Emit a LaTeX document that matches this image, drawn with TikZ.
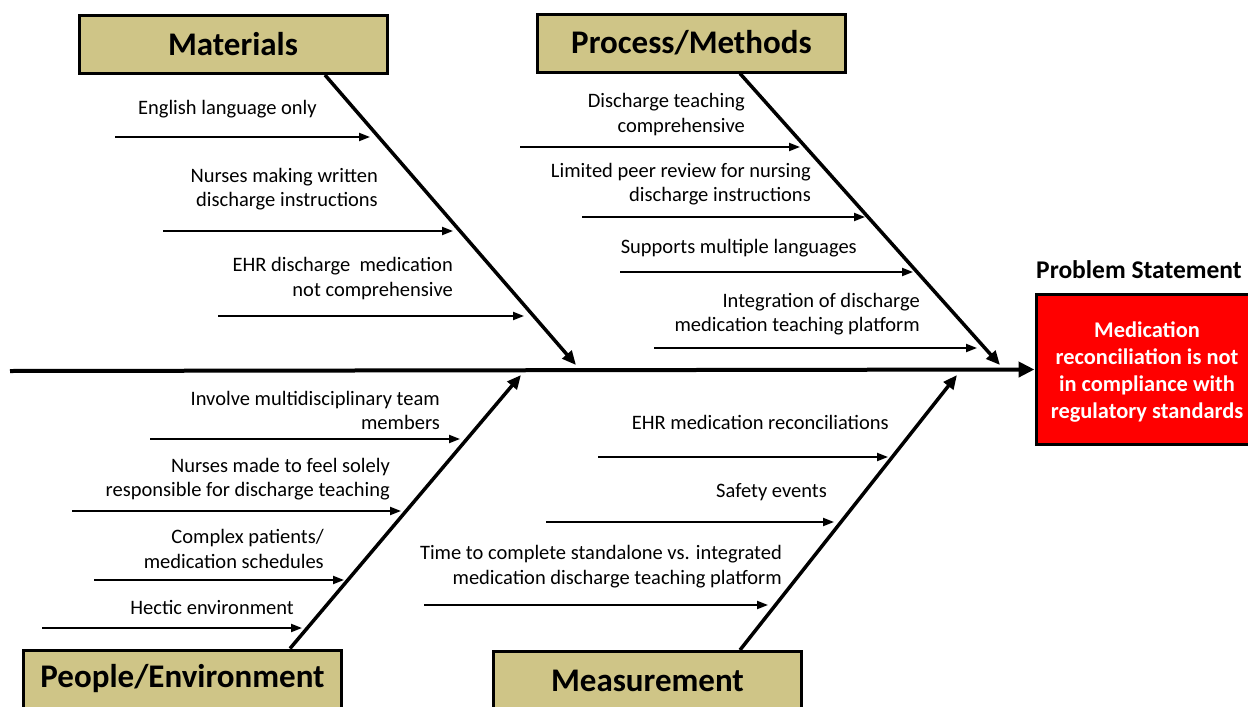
\documentclass[tikz,border=0pt]{standalone}
\usepackage{fontspec}
\setmainfont{Carlito}
\usetikzlibrary{arrows.meta,positioning}
\definecolor{boxtan}{RGB}{207,197,135}
\definecolor{probred}{RGB}{255,0,0}

\tikzset{
  category/.style={draw=black, line width=3pt, fill=boxtan, minimum width=308pt, minimum height=58pt, inner sep=0pt, font=\fontsize{33}{36}\selectfont\bfseries},
  cause/.style={align=right, anchor=east, inner sep=0pt, yshift=-2pt, font=\fontsize{20.5}{24.5}\selectfont},
  spine/.style={line width=4pt, -{Triangle[length=16pt,width=15pt]}},
  bone/.style={line width=3.5pt, -{Triangle[length=14pt,width=12pt]}},
  twig/.style={line width=2pt, -{Triangle[length=11pt,width=8pt]}},
}

\begin{document}
\begin{tikzpicture}[x=1pt,y=-1pt]
	\useasboundingbox (0,0) rectangle (1248,707);

	% problem head
	\node[draw=black, line width=3pt, fill=probred, minimum width=222pt, minimum height=150pt] (prob) at (1147,369.5) {};
	\node[text=white, align=center, inner sep=0pt, font=\fontsize{22.4}{27}\selectfont\bfseries] (probtext) at (1147,372.5) {Medication\\reconciliation is not\\in compliance with\\regulatory standards};
	\node[anchor=west, inner sep=0pt, font=\fontsize{25.5}{28}\selectfont\bfseries] (probtitle) at (1036,269.5) {Problem Statement};

	% spine
	\coordinate (tail) at (10,371);
	\draw[spine] (tail) -- (prob.west);

	% category boxes
	\node[category] (mat) at (233,44.5) {Materials};
	\node[category] (proc) at (691.5,43) {Process/Methods};
	\node[category, minimum width=318pt] (peop) at (182.5,679) {People/Environment};
	\node[category] (meas) at (647.5,680.5) {Measurement};

	% bone tips on spine
	\coordinate (mattip) at (576,365);
	\coordinate (proctip) at (1000,365);
	\coordinate (peoptip) at (521,375);
	\coordinate (meastip) at (957,375);

	\draw[bone] ([xshift=92pt]mat.south) -- (mattip);
	\draw[bone] ([xshift=48.5pt]proc.south) -- (proctip);
	\draw[bone] ([xshift=107.5pt]peop.north) -- (peoptip);
	\draw[bone] ([xshift=92.5pt]meas.north) -- (meastip);

	% Materials causes
	\node[cause] (m1) at (317,107) {English language only};
	\node[cause] (m2) at (378,187) {Nurses making written\\discharge instructions};
	\node[cause] (m3) at (453,276.5) {EHR discharge\ \ medication\\not comprehensive};
	\coordinate (m1s) at (115,137); \coordinate (m1e) at (370,137);
	\coordinate (m2s) at (163,231); \coordinate (m2e) at (453,231);
	\coordinate (m3s) at (218,316); \coordinate (m3e) at (524,316);
	\draw[twig] (m1s) -- (m1e);
	\draw[twig] (m2s) -- (m2e);
	\draw[twig] (m3s) -- (m3e);

	% Process/Methods causes
	\node[cause] (p1) at (745,112.5) {Discharge teaching\\comprehensive};
	\node[cause] (p2) at (811,182) {Limited peer review for nursing\\discharge instructions};
	\node[cause] (p3) at (857,246) {Supports multiple languages};
	\node[cause] (p4) at (920,312) {Integration of discharge\\medication teaching platform};
	\coordinate (p1s) at (520,147); \coordinate (p1e) at (800,147);
	\coordinate (p2s) at (582,217); \coordinate (p2e) at (865,217);
	\coordinate (p3s) at (620,272); \coordinate (p3e) at (913,272);
	\coordinate (p4s) at (654,348); \coordinate (p4e) at (977,348);
	\draw[twig] (p1s) -- (p1e);
	\draw[twig] (p2s) -- (p2e);
	\draw[twig] (p3s) -- (p3e);
	\draw[twig] (p4s) -- (p4e);

	% People/Environment causes
	\node[cause] (e1) at (440,408.5) {Involve multidisciplinary team\\members};
	\node[cause] (e2) at (390,477) {Nurses made to feel solely\\responsible for discharge teaching};
	\node[cause] (e3) at (324,547) {Complex patients/\\medication schedules};
	\node[cause] (e4) at (294,605) {Hectic environment};
	\coordinate (e1s) at (150,439); \coordinate (e1e) at (460,439);
	\coordinate (e2s) at (72,511); \coordinate (e2e) at (401,511);
	\coordinate (e3s) at (94,580); \coordinate (e3e) at (344,580);
	\coordinate (e4s) at (42,628); \coordinate (e4e) at (302,628);
	\draw[twig] (e1s) -- (e1e);
	\draw[twig] (e2s) -- (e2e);
	\draw[twig] (e3s) -- (e3e);
	\draw[twig] (e4s) -- (e4e);

	% Measurement causes
	\node[cause] (s1) at (889,420) {EHR medication reconciliations};
	\node[cause] (s2) at (827,490) {Safety events};
	\node[cause] (s3) at (782,564.5) {Time to complete standalone vs. integrated\\medication discharge teaching platform};
	\coordinate (s1s) at (598,457); \coordinate (s1e) at (888,457);
	\coordinate (s2s) at (546,522); \coordinate (s2e) at (834,522);
	\coordinate (s3s) at (424,605); \coordinate (s3e) at (768,605);
	\draw[twig] (s1s) -- (s1e);
	\draw[twig] (s2s) -- (s2e);
	\draw[twig] (s3s) -- (s3e);

\end{tikzpicture}
\end{document}
